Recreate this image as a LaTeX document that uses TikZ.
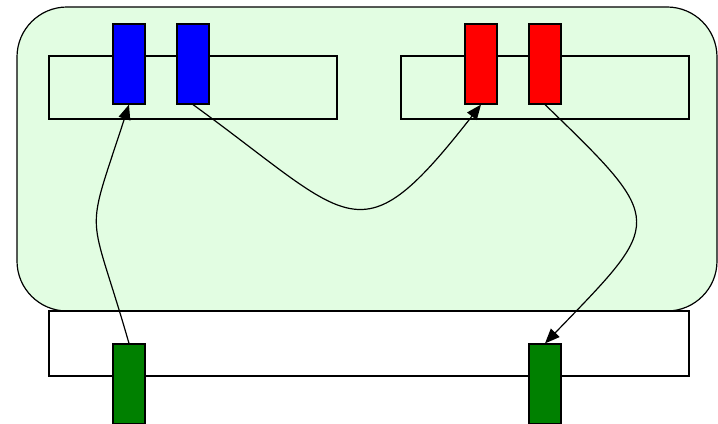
\documentclass[tikz,border=0pt]{standalone}
\usetikzlibrary{arrows.meta}
\definecolor{panelgreen}{RGB}{226,253,226}
\definecolor{slotblue}{RGB}{0,0,255}
\definecolor{slotred}{RGB}{255,0,0}
\definecolor{slotgreen}{RGB}{0,128,0}

\begin{document}
\begin{tikzpicture}[>={Triangle[length=0.37cm,width=0.3cm]}, line width=0.85pt]
  \tikzset{
    link/.style={->, line width=0.85pt},
    bar/.style={draw, minimum width=7.2cm, minimum height=1.575cm, inner sep=0pt},
    slot/.style={draw, minimum width=0.8cm, minimum height=2cm, inner sep=0pt}
  }
  \useasboundingbox (0,0) rectangle (17.95,-10.6);

  % Background panel
  \node[draw, fill=panelgreen, rounded corners=1.25cm, minimum width=17.5cm, minimum height=7.6cm, inner sep=0pt] (panel) at (9.175,-3.975) {};

  % Bars
  \node[bar] (leftbar)  at (4.825,-2.1875) {};
  \node[bar] (rightbar) at (13.625,-2.1875) {};
  \node[bar, fill=white, minimum width=16cm, minimum height=1.625cm] (bottombar) at (9.225,-8.5875) {};

  % Slots
  \node[slot, fill=slotblue]  (blue1)  at (3.225,-1.6) {};
  \node[slot, fill=slotblue]  (blue2)  at (4.825,-1.6) {};
  \node[slot, fill=slotred]   (red1)   at (12.025,-1.6) {};
  \node[slot, fill=slotred]   (red2)   at (13.625,-1.6) {};
  \node[slot, fill=slotgreen] (green1) at (3.225,-9.6) {};
  \node[slot, fill=slotgreen] (green2) at (13.625,-9.6) {};

  % Links
  \draw[link] (green1.north) to[out=106, in=-108, looseness=1.57] (blue1.south);
  \draw[link] (blue2.south) to[out=-36, in=-128, looseness=1.77] (red1.south);
  \draw[link] (red2.south) to[out=-44, in=46, looseness=1.83] (green2.north);

\end{tikzpicture}
\end{document}
